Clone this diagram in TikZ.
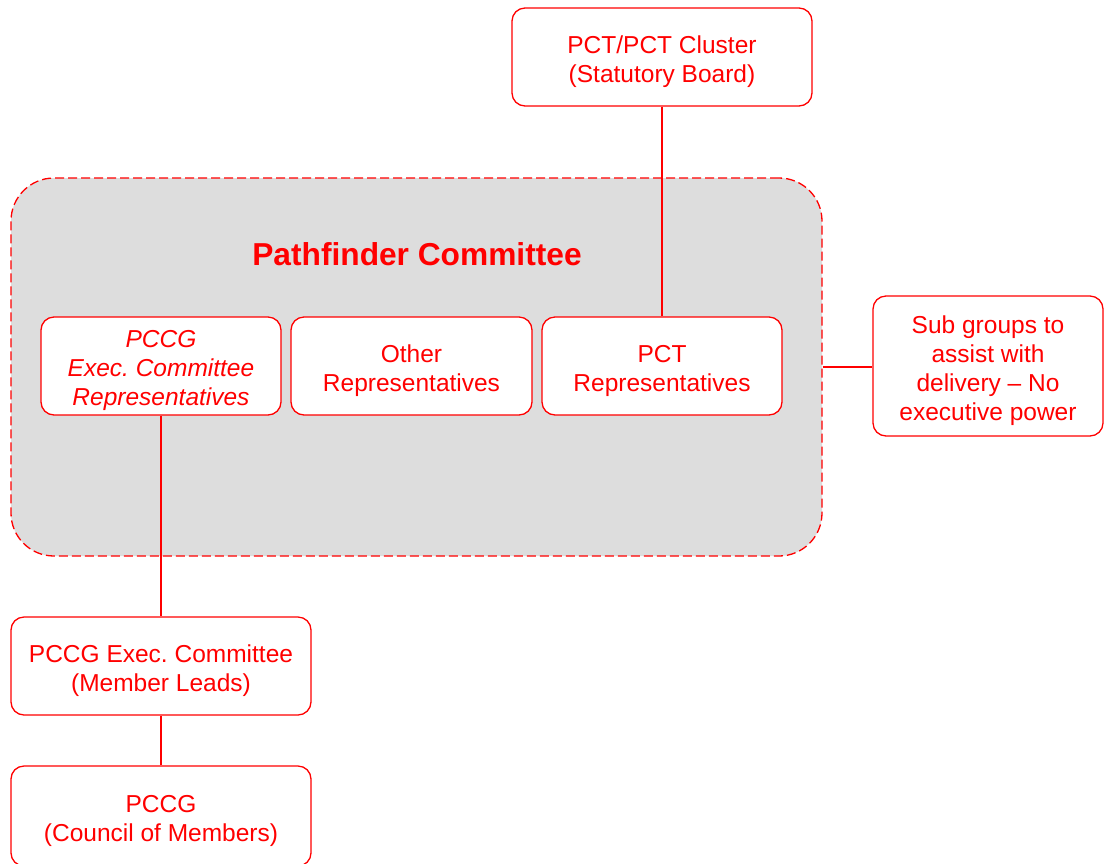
\documentclass[tikz,border=0pt]{standalone}
\usepackage{fontspec}
\setmainfont{Liberation Sans}
\usepackage{tikz}
\frenchspacing

\definecolor{chartred}{RGB}{255,0,0}
\definecolor{panelgray}{RGB}{221,221,221}

\newcommand{\boxstrut}{\rule{0pt}{27pt}}

\tikzset{
        box/.style={draw=chartred, line width=1.3pt, fill=white, rounded corners=13pt, align=center, text=chartred, inner sep=0pt, font=\fontsize{24.5}{29}\selectfont},
        link/.style={draw=chartred, line width=1.3pt}
}

\begin{document}
\begin{tikzpicture}[x=1pt,y=1pt]

        \useasboundingbox (0,0) rectangle (1105,-863);

        \node at (416.5,-367)[draw=chartred, line width=1.3pt, dash pattern=on 9pt off 4pt, fill=panelgray, rounded corners=43pt, minimum width=811pt, minimum height=378pt, inner sep=0pt](committee){};

        \node at (417,-254)[text=chartred, font=\fontsize{31.7}{36}\selectfont\bfseries](title){Pathfinder Committee};

        \node at (662,-57)[box, minimum width=300pt, minimum height=98pt](board){\boxstrut PCT/PCT Cluster\\(Statutory Board)};

        \node at (161,-366)[box, minimum width=240pt, minimum height=98pt](pccgrep){\boxstrut\itshape PCCG\\\itshape Exec. Committee\\\itshape Representatives};

        \node at (411.5,-366)[box, minimum width=241pt, minimum height=98pt](otherrep){\boxstrut Other\\Representatives};

        \node at (662,-366)[box, minimum width=240pt, minimum height=98pt](pctrep){\boxstrut PCT\\Representatives};

        \node at (988,-366)[box, minimum width=230pt, minimum height=140pt](subgroups){\boxstrut Sub groups to\\assist with\\delivery -- No\\executive power};

        \node at (161,-666)[box, minimum width=300pt, minimum height=98pt](execleads){\boxstrut PCCG Exec. Committee\\(Member Leads)};

        \node at (161,-816)[box, minimum width=300pt, minimum height=100pt](council){\boxstrut PCCG\\(Council of Members)};

        \draw[link] (board.south) -- (pctrep.north);

        \draw[link] (committee.east) -- (subgroups.west |- committee.east);

        \draw[link] (pccgrep.south) -- (execleads.north);

        \draw[link] (execleads.south) -- (council.north);

\end{tikzpicture}
\end{document}
